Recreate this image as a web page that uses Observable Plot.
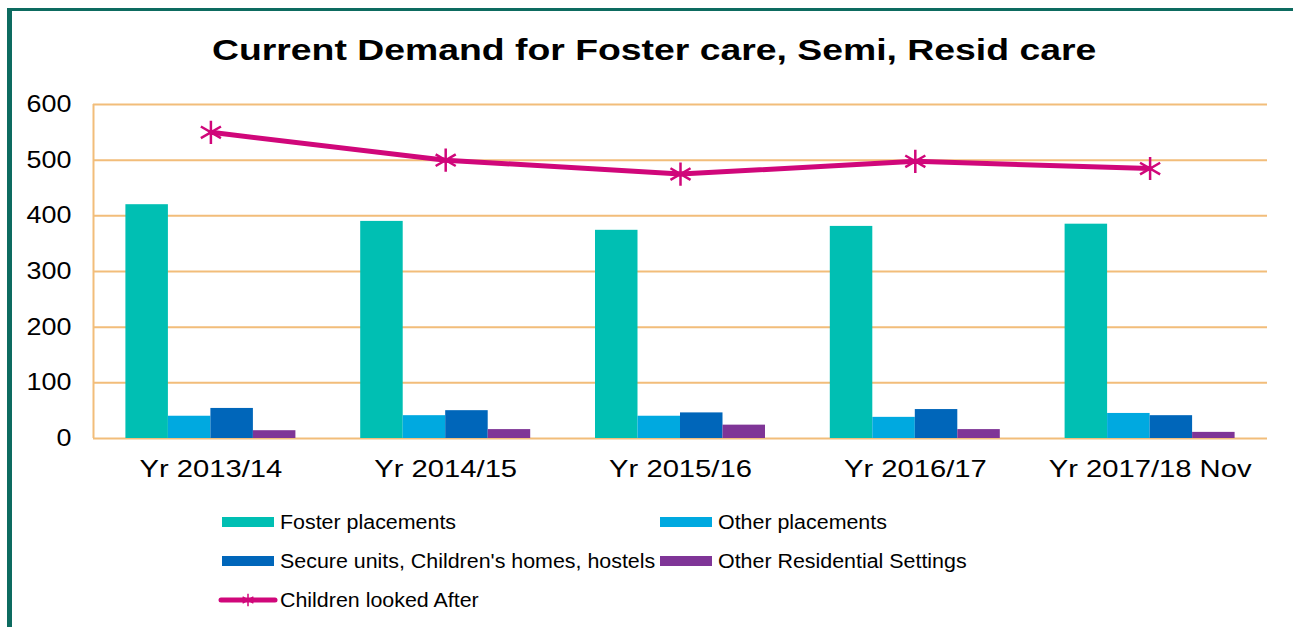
<!DOCTYPE html>
<html>
<head>
<meta charset="utf-8">
<script src="https://cdn.jsdelivr.net/npm/d3@7"></script>
<script src="https://cdn.jsdelivr.net/npm/@observablehq/plot@0.6"></script>
<style>
  html, body { margin: 0; padding: 0; background: #fff; }
  body { width: 1293px; height: 627px; position: relative; overflow: hidden; font-family: Arial, "Liberation Sans", sans-serif; }
  #frame { position: absolute; left: 7px; top: 8px; width: 1400px; height: 700px; border-left: 5px solid #0d6b60; border-top: 3px solid #0d6b60; }
  #title { position: absolute; left: 11px; width: 1286px; top: 30px; text-align: center; font-weight: bold; font-size: 30px; color: #000; line-height: 40px; }
  #title span { display: inline-block; transform: scaleX(1.245); transform-origin: 50% 50%; }
  #chart { position: absolute; left: 0; top: 80px; }
  .lg { position: absolute; font-size: 20px; color: #000; line-height: 24px; transform: scaleX(1.07); transform-origin: 0 50%; white-space: nowrap; }
  .sw { position: absolute; width: 52px; height: 10px; }
</style>
</head>
<body>
<div id="frame"></div>
<div id="title"><span>Current Demand for Foster care, Semi, Resid care</span></div>
<div id="chart"></div>
<div id="legend"></div>
<script>
const categories = ["Yr 2013/14", "Yr 2014/15", "Yr 2015/16", "Yr 2016/17", "Yr 2017/18 Nov"];
const seriesNames = ["Foster placements", "Other placements", "Secure units, Children's homes, hostels", "Other Residential Settings"];
const fosterPlacements = [420, 390, 374, 381, 385];
const otherPlacements = [40, 41, 40, 38, 45];
const secureUnits = [54, 50, 46, 52, 41];
const otherResidential = [14, 16, 24, 16, 11];
const childrenLookedAfter = [550, 500, 475, 498, 485];
const lineName = "Children looked After";
const yTicks = [0, 100, 200, 300, 400, 500, 600];
const colors = ["#00bfb3", "#00a9e0", "#0066ba", "#7f3597"];
const lineColor = "#d0077a";
const gridColor = "#f2bd7a";

const seriesValues = [fosterPlacements, otherPlacements, secureUnits, otherResidential];
const bw = 0.181;
const bars = [];
seriesValues.forEach((vals, j) => {
  vals.forEach((v, i) => {
    bars.push({i, j, x1: i + (j - 2) * bw, x2: i + (j - 1) * bw, value: v, series: seriesNames[j]});
  });
});
const lineData = childrenLookedAfter.map((v, i) => ({i, value: v}));
const xDomain = [-0.5, categories.length - 0.5];

const plot = Plot.plot({
  width: 1293,
  height: 410,
  marginTop: 24,
  marginBottom: 52,
  marginLeft: 93,
  marginRight: 26,
  style: {fontFamily: "Arial, 'Liberation Sans', sans-serif", fontSize: "23px", color: "#000", background: "transparent"},
  x: {type: "linear", domain: xDomain, ticks: categories.map((c, i) => i), tickFormat: i => categories[i], tickSize: 0, tickPadding: 22, label: null},
  y: {domain: [0, 600], ticks: yTicks, tickSize: 0, tickPadding: 22, label: null},
  marks: [
    Plot.ruleY(yTicks, {stroke: gridColor, strokeWidth: 2}),
    Plot.ruleX([xDomain[0]], {y1: 0, y2: 600, stroke: gridColor, strokeWidth: 2}),
    Plot.rectY(bars, {x1: "x1", x2: "x2", y: "value", fill: d => colors[d.j]}),
    Plot.line(lineData, {x: "i", y: "value", stroke: lineColor, strokeWidth: 5}),
    Plot.dot(lineData, {x: "i", y: "value", symbol: "asterisk", r: 11, stroke: lineColor, strokeWidth: 2.5})
  ]
});
document.getElementById("chart").appendChild(plot);

// Horizontally stretch axis labels (the reference text is wider than plain Arial)
function stretch(sel, s) {
  d3.select(plot).selectAll(sel).each(function() {
    const t = d3.select(this);
    const tr = t.attr("transform");
    if (tr) {
      t.attr("transform", tr + ` scale(${s},1)`);
    } else {
      const x = +t.attr("x") || 0;
      t.attr("x", x / s);
      t.attr("transform", `scale(${s},1)`);
    }
  });
}
stretch('[aria-label="x-axis tick label"] text, [aria-label="x-axis"] text', 1.27);
stretch('[aria-label="y-axis tick label"] text, [aria-label="y-axis"] text', 1.17);

// Legend
const legend = document.getElementById("legend");
const items = [
  {name: seriesNames[0], color: colors[0], sx: 222, tx: 280, cy: 522},
  {name: seriesNames[1], color: colors[1], sx: 660, tx: 718, cy: 522},
  {name: seriesNames[2], color: colors[2], sx: 222, tx: 280, cy: 561},
  {name: seriesNames[3], color: colors[3], sx: 660, tx: 718, cy: 561}
];
items.forEach(it => {
  const s = document.createElement("div");
  s.className = "sw";
  s.style.left = it.sx + "px";
  s.style.top = (it.cy - 5) + "px";
  s.style.background = it.color;
  legend.appendChild(s);
  const t = document.createElement("div");
  t.className = "lg";
  t.style.left = it.tx + "px";
  t.style.top = (it.cy - 12) + "px";
  t.textContent = it.name;
  legend.appendChild(t);
});
// line legend
const ns = "http://www.w3.org/2000/svg";
const lsvg = document.createElementNS(ns, "svg");
lsvg.setAttribute("width", 60);
lsvg.setAttribute("height", 20);
lsvg.style.position = "absolute";
lsvg.style.left = "218px";
lsvg.style.top = "590px";
const ln = document.createElementNS(ns, "line");
ln.setAttribute("x1", 3); ln.setAttribute("x2", 57); ln.setAttribute("y1", 10); ln.setAttribute("y2", 10);
ln.setAttribute("stroke", lineColor); ln.setAttribute("stroke-width", 5); ln.setAttribute("stroke-linecap", "round");
lsvg.appendChild(ln);
const star = document.createElementNS(ns, "path");
star.setAttribute("d", d3.symbol(d3.symbolAsterisk, 110)());
star.setAttribute("transform", "translate(30,10)");
star.setAttribute("stroke", lineColor); star.setAttribute("stroke-width", 1.5); star.setAttribute("fill", "none");
lsvg.appendChild(star);
legend.appendChild(lsvg);
const lt = document.createElement("div");
lt.className = "lg";
lt.style.left = "280px";
lt.style.top = (600 - 12) + "px";
lt.textContent = lineName;
legend.appendChild(lt);
</script>
</body>
</html>
